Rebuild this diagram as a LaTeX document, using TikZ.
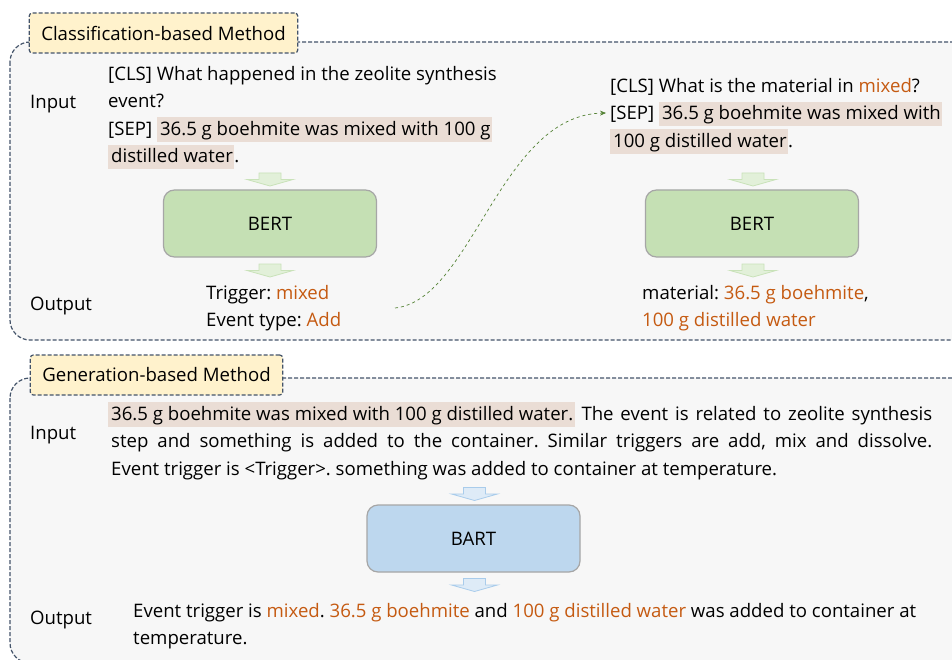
\documentclass[tikz,border=0pt]{standalone}
\usepackage{fontspec}
\setmainfont{Open Sans}
\usepackage{xcolor}
\usetikzlibrary{arrows.meta,positioning}
\frenchspacing
\definecolor{panelbg}{HTML}{F7F7F7}
\definecolor{paneldraw}{HTML}{44546A}
\definecolor{titlebg}{HTML}{FFF2CC}
\definecolor{hlbg}{HTML}{EADDD5}
\definecolor{ansc}{HTML}{C55A11}
\definecolor{bertfill}{HTML}{C5E0B4}
\definecolor{bertflow}{HTML}{E2F0D9}
\definecolor{bertedge}{HTML}{C9E2B9}
\definecolor{bartfill}{HTML}{BDD7EE}
\definecolor{bartflow}{HTML}{DEEBF7}
\definecolor{bartedge}{HTML}{A9CCEB}
\definecolor{boxdraw}{HTML}{A6A6A6}
\definecolor{linkgreen}{HTML}{548235}
\newcommand{\bodyfont}{\fontsize{18.6}{27.5}\selectfont}
\newcommand{\lstrut}{\vrule height 19pt depth 8.5pt width 0pt}
\newcommand{\hl}[1]{{\setlength{\fboxsep}{0pt}\colorbox{hlbg}{\vrule height 18pt depth 6.5pt width 0pt\kern3pt#1\kern1.5pt}}}
\newcommand{\ans}[1]{\textcolor{ansc}{#1}}
\tikzset{
  panel/.style={
    draw=paneldraw, fill=panelbg, line width=1.2pt,
    dash pattern=on 4pt off 2pt, rounded corners=20pt},
  title/.style={
    draw=paneldraw, fill=titlebg, line width=1.2pt,
    dash pattern=on 4pt off 2pt, rounded corners=3pt,
    font=\bodyfont, minimum height=40pt, inner xsep=12pt},
  rowname/.style={anchor=west, inner sep=0pt, font=\bodyfont},
  plain/.style={anchor=north west, inner sep=0pt, align=left, font=\bodyfont},
  model/.style={
    rectangle, rounded corners=11pt,
    draw=boxdraw, line width=1.2pt, fill=#1,
    minimum width=213pt, minimum height=67pt, font=\bodyfont},
  flow/.style 2 args={draw=#1, fill=#2, line width=0.8pt},
  pics/downarrow/.style={code={
    \path[pic actions] (-11,-6.5) -- (11,-6.5) -- (11,0) -- (23,0)
      -- (0,6.5) -- (-23,0) -- (-11,0) -- cycle;}},
  link/.style={-{Stealth[length=6pt,width=5pt]}, draw=linkgreen, dashed, line width=0.7pt},
}

\begin{document}
\begin{tikzpicture}[x=1pt, y=-1pt]
  \useasboundingbox (0,0) rectangle (952,660);
  \clip (0,0) rectangle (952,660);
  \fill[white] (0,0) rectangle (952,660);

  % classification panel
  \draw[panel] (10,42) rectangle (990,340);
  \node[title] (clstitle) at (163.5,33) {Classification-based Method};
  \node[rowname] (clsin) at (30,104) {Input};
  \node[rowname] (clsout) at (30,306) {Output};

  \node[plain] (trigq) at (108,61) {\lstrut[CLS] What happened in the zeolite synthesis\\
    \lstrut event?\\
    \lstrut[SEP] \hl{36.5 g boehmite was mixed with 100 g}\\
    \lstrut\hl{distilled water}.};
  \pic[flow={bertedge}{bertflow}] (tin) at (270,179.5) {downarrow};
  \node[model=bertfill] (bert1) at (270,223.5) {BERT};
  \pic[flow={bertedge}{bertflow}] (tout) at (270,270.5) {downarrow};
  \node[plain] (triga) at (206,280) {\lstrut Trigger: \ans{mixed}\\
    \lstrut Event type: \ans{Add}};

  \node[plain] (argq) at (610,73) {\lstrut[CLS] What is the material in \ans{mixed}?\\
    \lstrut[SEP] \hl{36.5 g boehmite was mixed with}\\
    \lstrut\hl{100 g distilled water}.};
  \pic[flow={bertedge}{bertflow}] (ain) at (753,179.5) {downarrow};
  \node[model=bertfill] (bert2) at (752,223.5) {BERT};
  \pic[flow={bertedge}{bertflow}] (aout) at (753,270.5) {downarrow};
  \node[plain] (arga) at (642,280) {\lstrut material: \ans{36.5 g boehmite},\\
    \lstrut\ans{100 g distilled water}};

  \coordinate (cfrom) at (395,308);
  \coordinate (cto) at (606,113);
  \draw[link] (cfrom) .. controls (472,300) and (500,115) .. (cto);

  % generation panel
  \draw[panel] (10,378) rectangle (990,663);
  \node[title] (gentitle) at (156.5,375) {Generation-based Method};
  \node[rowname] (genin) at (30,435) {Input};
  \node[rowname] (genout) at (30,620) {Output};

  \node[plain] (prompt) at (108,401) {\makebox[824pt][s]{\lstrut\hl{36.5 g boehmite was mixed with 100 g distilled water.} The event is related to zeolite synthesis}\\
    \makebox[824pt][s]{\lstrut\kern3pt step and something is added to the container. Similar triggers are add, mix and dissolve.}\\
    \lstrut\kern3pt Event trigger is <Trigger>. something was added to container at temperature.};
  \pic[flow={bartedge}{bartflow}] (pin) at (474.5,494) {downarrow};
  \node[model=bartfill] (bart) at (473.5,538.5) {BART};
  \pic[flow={bartedge}{bartflow}] (pout) at (474.5,585) {downarrow};
  \node[plain] (sent) at (133,598) {\lstrut Event trigger is \ans{mixed}. \ans{36.5 g boehmite} and \ans{100 g distilled water} was added to container at\\
    \lstrut temperature.};
\end{tikzpicture}
\end{document}
